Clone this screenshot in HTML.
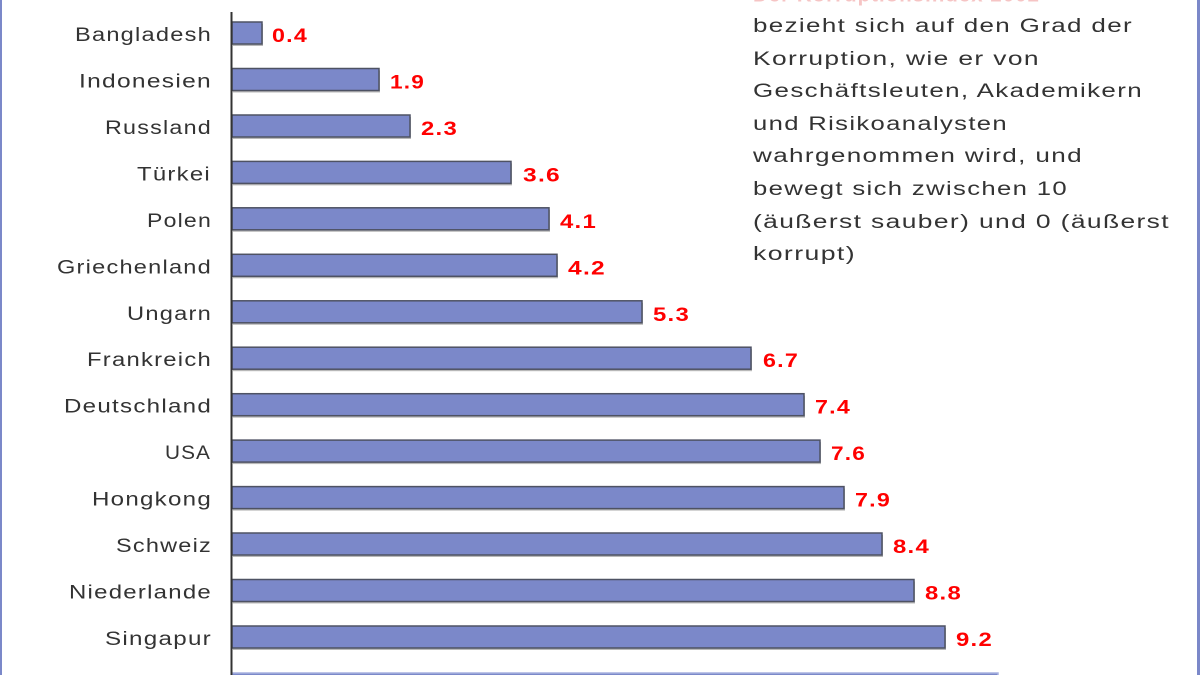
<!DOCTYPE html>
<html>
<head>
<meta charset="utf-8">
<style>
  html, body { margin: 0; padding: 0; background: #fff; }
  svg { display: block; }
  .lbl { font-family: "Liberation Sans", "DejaVu Sans", sans-serif; font-size: 19px; fill: #333; letter-spacing: 1px; }
  .val { font-family: "Liberation Sans", "DejaVu Sans", sans-serif; font-size: 19px; font-weight: bold; fill: #ff0000; letter-spacing: 1px; }
  .txt { font-family: "Liberation Sans", "DejaVu Sans", sans-serif; font-size: 19px; fill: #333; letter-spacing: 1px; }
</style>
</head>
<body>
<svg width="1200" height="675" viewBox="0 0 1200 675" xmlns="http://www.w3.org/2000/svg">
  <rect x="0" y="0" width="1200" height="675" fill="#fff"/>
  <!-- frame borders -->
  <rect x="0" y="0" width="2" height="675" fill="#7b88c9"/>
  <rect x="1197" y="0" width="3" height="675" fill="#7b88c9"/>

  <!-- faint red title remnant at top -->
  <text class="val" x="753" y="1.5" textLength="287" lengthAdjust="spacingAndGlyphs" style="fill:#f6c4c4">Der Korruptionsindex 2002</text>

  <!-- right explanatory text -->
  <text class="txt" x="753" y="32" textLength="380" lengthAdjust="spacingAndGlyphs">bezieht sich auf den Grad der</text>
  <text class="txt" x="753" y="65" textLength="287" lengthAdjust="spacingAndGlyphs">Korruption, wie er von</text>
  <text class="txt" x="753" y="97" textLength="390" lengthAdjust="spacingAndGlyphs">Geschäftsleuten, Akademikern</text>
  <text class="txt" x="753" y="130" textLength="255" lengthAdjust="spacingAndGlyphs">und Risikoanalysten</text>
  <text class="txt" x="753" y="162" textLength="330" lengthAdjust="spacingAndGlyphs">wahrgenommen wird, und</text>
  <text class="txt" x="753" y="195" textLength="315" lengthAdjust="spacingAndGlyphs">bewegt sich zwischen 10</text>
  <text class="txt" x="753" y="228" textLength="417" lengthAdjust="spacingAndGlyphs">(äußerst sauber) und 0 (äußerst</text>
  <text class="txt" x="753" y="260" textLength="103" lengthAdjust="spacingAndGlyphs">korrupt)</text>

  <!-- bars -->
  <g>
    <rect x="233" y="24" width="30" height="22" fill="#b8b8b8"/>
    <rect x="232" y="22" width="30" height="22" fill="#7b88c9" stroke="#4e5263" stroke-width="1.5"/>
    <rect x="233" y="70.5" width="147" height="22" fill="#b8b8b8"/>
    <rect x="232" y="68.5" width="147" height="22" fill="#7b88c9" stroke="#4e5263" stroke-width="1.5"/>
    <rect x="233" y="117" width="178" height="22" fill="#b8b8b8"/>
    <rect x="232" y="115" width="178" height="22" fill="#7b88c9" stroke="#4e5263" stroke-width="1.5"/>
    <rect x="233" y="163.4" width="279" height="22" fill="#b8b8b8"/>
    <rect x="232" y="161.4" width="279" height="22" fill="#7b88c9" stroke="#4e5263" stroke-width="1.5"/>
    <rect x="233" y="209.8" width="317" height="22" fill="#b8b8b8"/>
    <rect x="232" y="207.8" width="317" height="22" fill="#7b88c9" stroke="#4e5263" stroke-width="1.5"/>
    <rect x="233" y="256.3" width="325" height="22" fill="#b8b8b8"/>
    <rect x="232" y="254.3" width="325" height="22" fill="#7b88c9" stroke="#4e5263" stroke-width="1.5"/>
    <rect x="233" y="302.8" width="410" height="22" fill="#b8b8b8"/>
    <rect x="232" y="300.8" width="410" height="22" fill="#7b88c9" stroke="#4e5263" stroke-width="1.5"/>
    <rect x="233" y="349.2" width="519" height="22" fill="#b8b8b8"/>
    <rect x="232" y="347.2" width="519" height="22" fill="#7b88c9" stroke="#4e5263" stroke-width="1.5"/>
    <rect x="233" y="395.7" width="572" height="22" fill="#b8b8b8"/>
    <rect x="232" y="393.7" width="572" height="22" fill="#7b88c9" stroke="#4e5263" stroke-width="1.5"/>
    <rect x="233" y="442.1" width="588" height="22" fill="#b8b8b8"/>
    <rect x="232" y="440.1" width="588" height="22" fill="#7b88c9" stroke="#4e5263" stroke-width="1.5"/>
    <rect x="233" y="488.6" width="612" height="22" fill="#b8b8b8"/>
    <rect x="232" y="486.6" width="612" height="22" fill="#7b88c9" stroke="#4e5263" stroke-width="1.5"/>
    <rect x="233" y="535" width="650" height="22" fill="#b8b8b8"/>
    <rect x="232" y="533" width="650" height="22" fill="#7b88c9" stroke="#4e5263" stroke-width="1.5"/>
    <rect x="233" y="581.5" width="682" height="22" fill="#b8b8b8"/>
    <rect x="232" y="579.5" width="682" height="22" fill="#7b88c9" stroke="#4e5263" stroke-width="1.5"/>
    <rect x="233" y="628" width="713" height="22" fill="#b8b8b8"/>
    <rect x="232" y="626" width="713" height="22" fill="#7b88c9" stroke="#4e5263" stroke-width="1.5"/>
    <rect x="232" y="673" width="766" height="22" fill="#7b88c9" stroke="#a8b2e0" stroke-width="1.5"/>
  </g>

  <!-- axis -->
  <rect x="230.5" y="12" width="2" height="663" fill="#333"/>

  <!-- country labels -->
  <text class="lbl" x="75"  y="41"  textLength="137" lengthAdjust="spacingAndGlyphs">Bangladesh</text>
  <text class="lbl" x="79"  y="87.5" textLength="133" lengthAdjust="spacingAndGlyphs">Indonesien</text>
  <text class="lbl" x="105" y="134" textLength="107" lengthAdjust="spacingAndGlyphs">Russland</text>
  <text class="lbl" x="137" y="180.4" textLength="74" lengthAdjust="spacingAndGlyphs">Türkei</text>
  <text class="lbl" x="147" y="226.8" textLength="65" lengthAdjust="spacingAndGlyphs">Polen</text>
  <text class="lbl" x="57"  y="273.3" textLength="155" lengthAdjust="spacingAndGlyphs">Griechenland</text>
  <text class="lbl" x="127" y="319.8" textLength="85" lengthAdjust="spacingAndGlyphs">Ungarn</text>
  <text class="lbl" x="87"  y="366.2" textLength="125" lengthAdjust="spacingAndGlyphs">Frankreich</text>
  <text class="lbl" x="64"  y="412.7" textLength="148" lengthAdjust="spacingAndGlyphs">Deutschland</text>
  <text class="lbl" x="165" y="459.1" textLength="46" lengthAdjust="spacingAndGlyphs">USA</text>
  <text class="lbl" x="92"  y="505.6" textLength="120" lengthAdjust="spacingAndGlyphs">Hongkong</text>
  <text class="lbl" x="116" y="552"   textLength="96" lengthAdjust="spacingAndGlyphs">Schweiz</text>
  <text class="lbl" x="69"  y="598.5" textLength="143" lengthAdjust="spacingAndGlyphs">Niederlande</text>
  <text class="lbl" x="105" y="645"   textLength="107" lengthAdjust="spacingAndGlyphs">Singapur</text>

  <!-- value labels -->
  <text class="val" x="272" y="42"    textLength="36" lengthAdjust="spacingAndGlyphs">0.4</text>
  <text class="val" x="390" y="88.5"  textLength="35" lengthAdjust="spacingAndGlyphs">1.9</text>
  <text class="val" x="421" y="135"   textLength="37" lengthAdjust="spacingAndGlyphs">2.3</text>
  <text class="val" x="523" y="181.4" textLength="38" lengthAdjust="spacingAndGlyphs">3.6</text>
  <text class="val" x="560" y="227.8" textLength="37" lengthAdjust="spacingAndGlyphs">4.1</text>
  <text class="val" x="568" y="274.3" textLength="38" lengthAdjust="spacingAndGlyphs">4.2</text>
  <text class="val" x="653" y="320.8" textLength="37" lengthAdjust="spacingAndGlyphs">5.3</text>
  <text class="val" x="763" y="367.2" textLength="36" lengthAdjust="spacingAndGlyphs">6.7</text>
  <text class="val" x="815" y="413.7" textLength="36" lengthAdjust="spacingAndGlyphs">7.4</text>
  <text class="val" x="831" y="460.1" textLength="35" lengthAdjust="spacingAndGlyphs">7.6</text>
  <text class="val" x="855" y="506.6" textLength="36" lengthAdjust="spacingAndGlyphs">7.9</text>
  <text class="val" x="893" y="553"   textLength="37" lengthAdjust="spacingAndGlyphs">8.4</text>
  <text class="val" x="925" y="599.5" textLength="37" lengthAdjust="spacingAndGlyphs">8.8</text>
  <text class="val" x="956" y="646"   textLength="37" lengthAdjust="spacingAndGlyphs">9.2</text>
</svg>
</body>
</html>
